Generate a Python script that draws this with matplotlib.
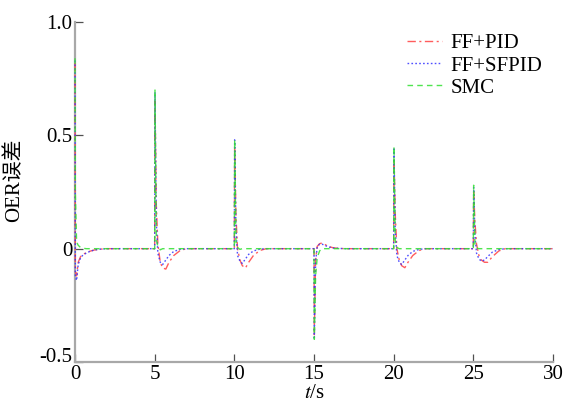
import numpy as np
import matplotlib
matplotlib.use("Agg")
import matplotlib.pyplot as plt

plt.rcParams['font.family'] = ['Liberation Serif', 'Noto Sans CJK SC']
plt.rcParams['mathtext.fontset'] = 'stix'

# disturbance instants (s) and the sample offsets used after each one
event_times = [0, 5, 10, 15, 20, 25]
offsets = [0, 0.02, 0.1, 0.2, 0.35, 0.5, 0.7, 0.9, 1.2, 1.6, 2.0]
t_end = 30

# OER error after each disturbance
pid_err = [
    [0.82, -0.10, -0.12, -0.06, -0.035, -0.025, -0.018, -0.012, -0.006, -0.002, 0],
    [0, 0.65, 0.20, 0.02, -0.06, -0.085, -0.09, -0.06, -0.03, -0.008, 0],
    [0, 0.45, 0.15, 0.0, -0.05, -0.075, -0.085, -0.06, -0.03, -0.008, 0],
    [0, -0.38, -0.05, 0.01, 0.022, 0.025, 0.018, 0.01, 0.004, 0.001, 0],
    [0, 0.40, 0.15, 0.0, -0.05, -0.075, -0.084, -0.06, -0.03, -0.008, 0],
    [0, 0.25, 0.12, 0.02, -0.03, -0.05, -0.06, -0.06, -0.035, -0.01, 0],
]
sfpid_err = [
    [0.83, -0.12, -0.14, -0.07, -0.04, -0.028, -0.02, -0.013, -0.006, -0.002, 0],
    [0, 0.69, 0.12, -0.02, -0.06, -0.07, -0.05, -0.03, -0.012, -0.003, 0],
    [0, 0.48, 0.09, -0.03, -0.055, -0.065, -0.045, -0.025, -0.01, -0.002, 0],
    [0, -0.40, -0.06, 0.008, 0.02, 0.02, 0.014, 0.008, 0.003, 0.001, 0],
    [0, 0.44, 0.08, -0.03, -0.06, -0.07, -0.05, -0.03, -0.012, -0.003, 0],
    [0, 0.27, 0.06, -0.02, -0.045, -0.055, -0.05, -0.035, -0.015, -0.004, 0],
]
smc_err = [
    [0.84, 0.25, 0.03, 0.015, 0.005, 0.002, 0, 0, 0, 0, 0],
    [0, 0.70, 0.04, 0.01, -0.005, 0, 0, 0, 0, 0, 0],
    [0, 0.48, 0.03, 0.005, -0.003, 0, 0, 0, 0, 0, 0],
    [0, -0.40, -0.12, -0.04, -0.01, 0, 0, 0, 0, 0, 0],
    [0, 0.45, 0.03, 0.005, 0, 0, 0, 0, 0, 0, 0],
    [0, 0.28, 0.02, 0.003, 0, 0, 0, 0, 0, 0, 0],
]


def build(series):
    t = np.concatenate([T + np.array(offsets) for T in event_times] + [[t_end]])
    y = np.concatenate([np.array(v) for v in series] + [[0]])
    return t, y


fig = plt.figure(figsize=(5.73, 4.03), dpi=100)
ax = fig.add_axes([0.1309, 0.1017, 0.8342, 0.8437])

styles = [
    (pid_err, '#ff4040', (6, 2.5, 1.5, 2.5), 'FF+PID'),
    (sfpid_err, '#3030ff', (1.2, 1.6), 'FF+SFPID'),
    (smc_err, '#30e030', (4, 3), 'SMC'),
]
for series, color, dash, name in styles:
    t, y = build(series)
    ax.plot(t, y, color=color, lw=1.0, alpha=0.85, dashes=dash, label=name,
            zorder=3, clip_on=False)

ax.set_xlim(0, 30)
ax.set_ylim(-0.5, 1.0)
ax.set_xticks([0, 5, 10, 15, 20, 25, 30])
ax.set_yticks([-0.5, 0, 0.5, 1.0])
ax.set_yticklabels(['-0.5', '0', '0.5', '1.0'])

for side in ('top', 'right'):
    ax.spines[side].set_visible(False)
for side in ('left', 'bottom'):
    ax.spines[side].set_color('#a8a8a8')
    ax.spines[side].set_linewidth(1.6)
    ax.spines[side].set_zorder(2)
ax.tick_params(direction='in', labelsize=15, length=6, width=0.9, pad=2,
               color='#505050', labelcolor='black')

# lift the bottom y label so it sits above the x axis labels
ax.get_yticklabels()[0].set_verticalalignment('baseline')

ax.set_xlabel('$t$/s', fontsize=15, labelpad=0)
ax.set_ylabel('OER误差', fontsize=15)
ax.yaxis.set_label_coords(-0.105, 0.535)

ax.legend(loc='upper left', bbox_to_anchor=(0.6946, 0.965), frameon=False,
          fontsize=15, handlelength=1.7, handletextpad=0.4, labelspacing=0.12,
          borderpad=0, borderaxespad=0)

fig.savefig('out.png', dpi=100)
